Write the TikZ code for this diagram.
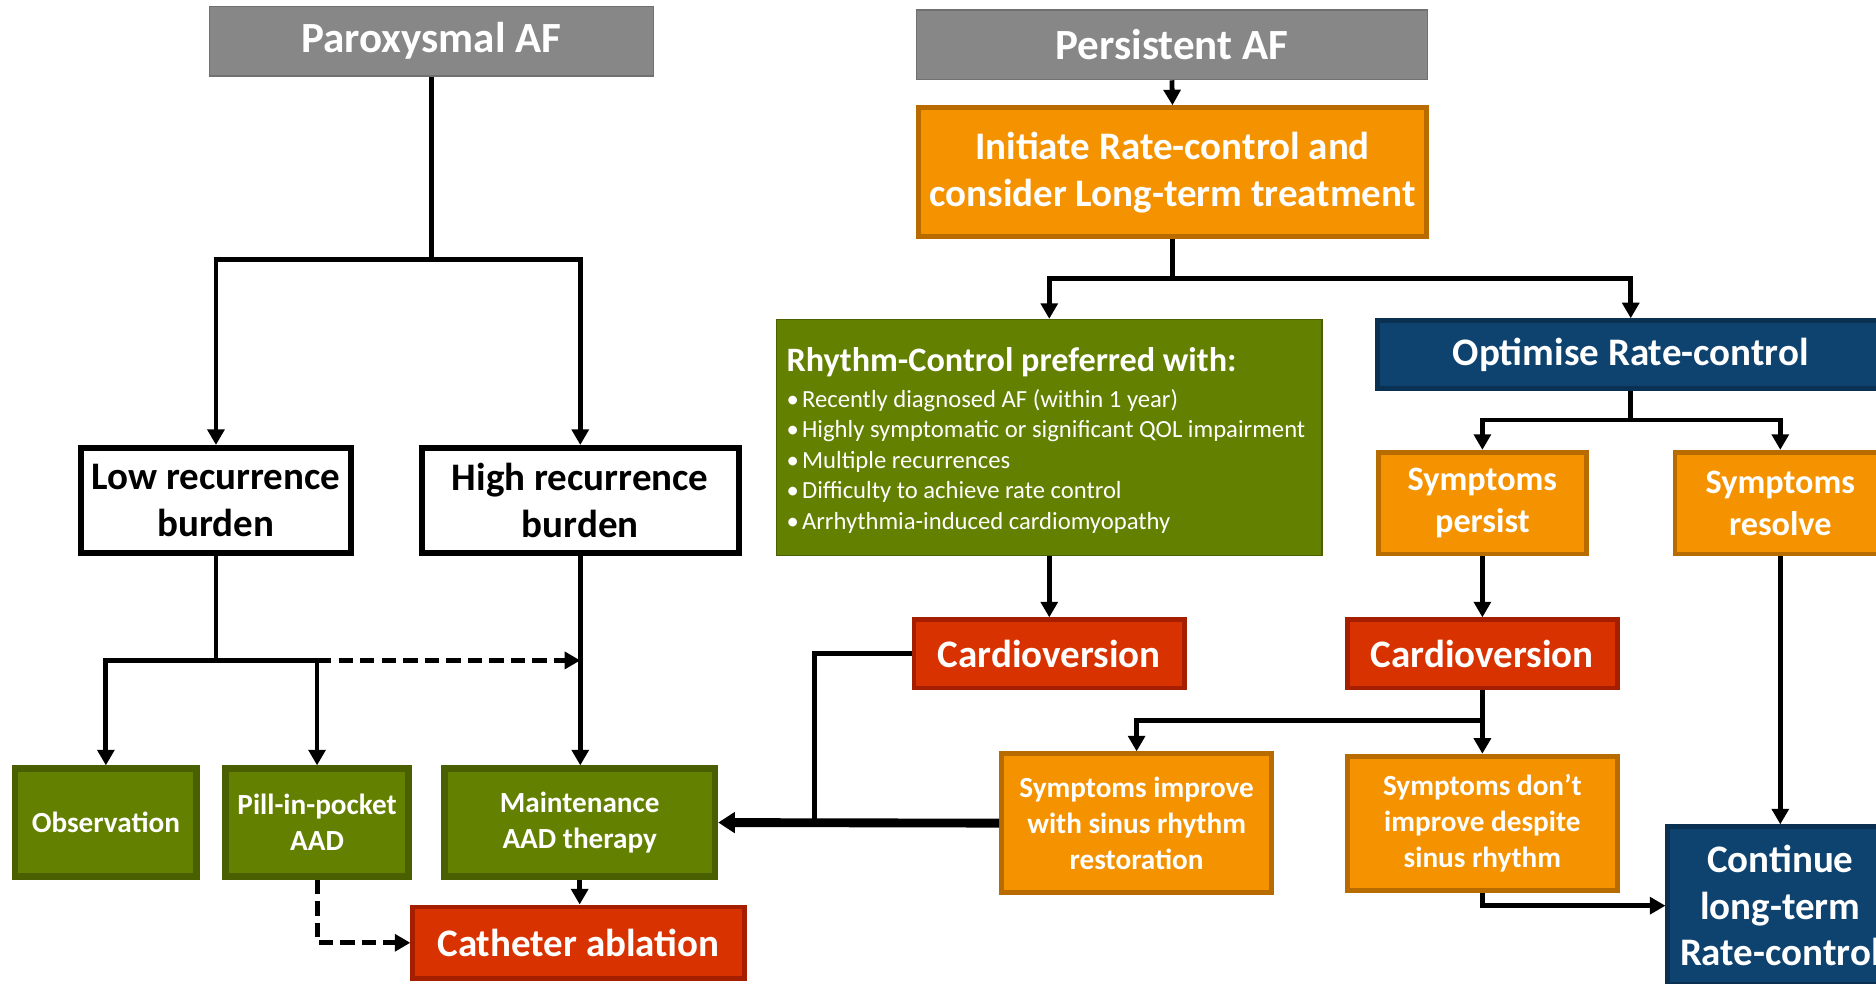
\documentclass[tikz,border=0pt]{standalone}
\usepackage{fontspec}
\setmainfont{Carlito}
\usetikzlibrary{arrows.meta}

\definecolor{afgray}{RGB}{135,135,135}
\definecolor{afgrayd}{RGB}{112,112,112}
\definecolor{orf}{RGB}{245,146,0}
\definecolor{ord}{RGB}{184,108,0}
\definecolor{redf}{RGB}{216,50,0}
\definecolor{redd}{RGB}{165,30,0}
\definecolor{grf}{RGB}{99,128,0}
\definecolor{grd}{RGB}{74,96,0}
\definecolor{bluf}{RGB}{14,67,112}
\definecolor{blud}{RGB}{10,48,82}

\newcommand\fsTitle{\fontsize{18}{21.5}\selectfont\bfseries}
\newcommand\fsBig{\fontsize{16.3}{19.5}\selectfont\bfseries}
\newcommand\fsMid{\fontsize{14.3}{17.5}\selectfont\bfseries}
\newcommand\fsSmall{\fontsize{12.2}{15}\selectfont\bfseries}
\newcommand\fsList{\fontsize{10.3}{12.75}\selectfont}
\newcommand\bul{\makebox[6.5pt][l]{\textbullet}}

\begin{document}
\begin{tikzpicture}[x=0.5pt,y=-0.5pt,
  base/.style={inner sep=0pt, align=center, text=white},
  sz/.style 2 args={minimum width=#1, minimum height=#2},
  graybox/.style={base, fill=afgray, draw=afgrayd, line width=0.6pt, font=\fsTitle},
  burdenbox/.style={base, fill=white, draw=black, line width=2.6pt, text=black, font=\fsBig},
  orangebox/.style={base, fill=orf, draw=ord, line width=2pt},
  redbox/.style={base, fill=redf, draw=redd, line width=2pt, font=\fsBig},
  greenbox/.style={base, fill=grf, draw=grd, line width=2.8pt, font=\fsSmall},
  bluebox/.style={base, fill=bluf, draw=blud, line width=2pt, font=\fsBig},
  ln/.style={line width=2pt},
  arr/.style={ln, -{Triangle[length=6.5pt,width=7pt]}},
  darr/.style={line width=2.1pt, dash pattern=on 6pt off 3pt, -{Triangle[length=6.5pt,width=7pt]}},
  tarr/.style={line width=3.7pt, -{Triangle[length=7pt,width=8.5pt]}}
]
\useasboundingbox (0,0) rectangle (1568,822);
\clip (0,0) rectangle (1568,822);

% ---------- Paroxysmal branch ----------
\node[graybox, sz={185.5pt}{29pt}] (pax) at (360.5,34.5) {Paroxysmal AF};
\node[burdenbox, sz={113pt}{44pt}] (low) at (180.5,418.5) {Low recurrence\\burden};
\node[burdenbox, sz={132.5pt}{44pt}] (high) at (485,418.5) {High recurrence\\burden};
\node[greenbox, sz={76pt}{45pt}] (obs) at (88.5,687.5) {Observation};
\node[greenbox, sz={76.5pt}{45pt}] (pill) at (265,687.5) {Pill-in-pocket\\AAD};
\node[greenbox, sz={113pt}{45pt}] (maint) at (484.5,687.5) {Maintenance\\AAD therapy};
\node[redbox, sz={138.5pt}{30pt}] (cath) at (483.5,788) {Catheter ablation};

% ---------- Persistent branch ----------
\node[graybox, sz={213.5pt}{29pt}] (pers) at (979.5,37.5) {Persistent AF};
\node[orangebox, font=\fsBig, sz={212pt}{54pt}] (init) at (980,144)
  {Initiate Rate-control and\\consider Long-term treatment};
\node[base, fill=grf, draw=grd, line width=0.5pt, sz={228pt}{98.5pt}] (rhy) at (877,365.5) {};
\node[anchor=west, align=left, inner sep=0pt, text=white, font=\fsList] (rhytxt) at (657,368)
  {{\fsMid Rhythm-Control preferred with:}\\[2.2pt]
   \bul Recently diagnosed AF (within 1 year)\\
   \bul Highly symptomatic or significant QOL impairment\\
   \bul Multiple recurrences\\
   \bul Difficulty to achieve rate control\\
   \bul Arrhythmia-induced cardiomyopathy};
\node[bluebox, sz={212pt}{28.5pt}] (opt) at (1363,296.5) {Optimise Rate-control};
\node[orangebox, font=\fsMid, sz={87pt}{42.5pt}] (sp) at (1239,420.5) {Symptoms\\persist};
\node[orangebox, font=\fsMid, sz={88pt}{42.5pt}] (sr) at (1488,420.5) {Symptoms\\resolve};
\node[redbox, sz={113pt}{28.5pt}] (cv1) at (877,546.5) {Cardioversion};
\node[redbox, sz={113pt}{28.5pt}] (cv2) at (1239,546.5) {Cardioversion};
\node[orangebox, font=\fsSmall, sz={113pt}{58pt}] (imp) at (950,688)
  {Symptoms improve\\with sinus rhythm\\restoration};
\node[orangebox, font=\fsSmall, sz={113pt}{56pt}] (dont) at (1239,688)
  {Symptoms don’t\\improve despite\\sinus rhythm};
\node[bluebox, sz={94pt}{66pt}] (cont) at (1488,757) {Continue\\long-term\\Rate-control};

% ---------- junction levels ----------
\coordinate (j1) at (0,217);
\coordinate (j2) at (0,552);
\coordinate (j3) at (0,233);
\coordinate (j4) at (0,351);
\coordinate (j5) at (0,602);
\coordinate (j6) at (681,0);

% ---------- connectors, left ----------
\draw[ln] (pax.south) -- (pax.south |- j1);
\draw[arr] (pax.south |- j1) -| (low.north);
\draw[arr] (pax.south |- j1) -| (high.north);
\draw[ln] (low.south) -- (low.south |- j2);
\draw[arr] (low.south |- j2) -| (obs.north);
\draw[arr] (low.south |- j2) -| (pill.north);
\draw[darr] (pill.north |- j2) -- (high.south |- j2);
\draw[arr] (high.south) -- (high.south |- maint.north);
\draw[arr] (maint.south) -- (maint.south |- cath.north);
\draw[darr] (pill.south) |- (cath.west);

% ---------- connectors, right ----------
\draw[arr] (pers.south) -- (init.north);
\draw[ln] (init.south) -- (init.south |- j3);
\draw[arr] (init.south |- j3) -| (rhy.north);
\draw[arr] (init.south |- j3) -| (opt.north);
\draw[arr] (rhy.south) -- (cv1.north);
\draw[ln] (opt.south) -- (opt.south |- j4);
\draw[arr] (opt.south |- j4) -| (sp.north);
\draw[arr] (opt.south |- j4) -| (sr.north);
\draw[arr] (sp.south) -- (cv2.north);
\draw[ln] (cv2.south) -- (cv2.south |- j5);
\draw[arr] (cv2.south |- j5) -| (imp.north);
\draw[arr] (cv2.south |- j5) -- (dont.north);
\draw[arr] (dont.south) |- (cont.west);
\draw[arr] (sr.south) -- (sr.south |- cont.north);
\draw[ln] (cv1.west) -| (j6 |- maint.east);
\draw[tarr] (imp.west) -- (maint.east);
\end{tikzpicture}
\end{document}
